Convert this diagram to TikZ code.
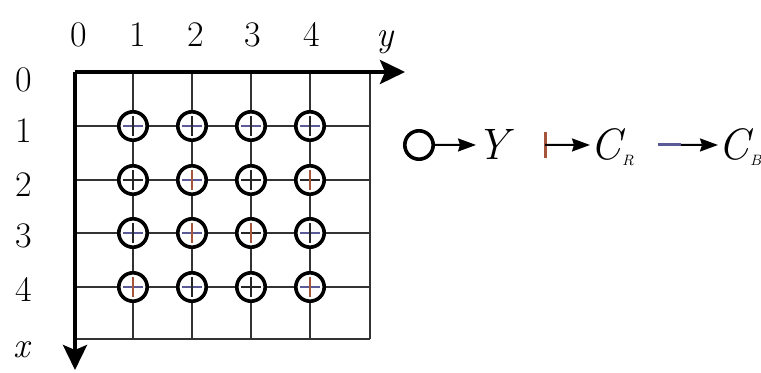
\documentclass[tikz,border=0pt]{standalone}
\usetikzlibrary{arrows.meta}
\definecolor{crred}{RGB}{165,85,60}
\definecolor{cbblue}{RGB}{90,90,150}

\begin{document}
\begin{tikzpicture}[x=0.5pt, y=-0.5pt,
    axisarrow/.style={-{Stealth[length=12.5pt,width=12pt,inset=2.5pt]}, line width=2pt},
    lgarrow/.style={-{Stealth[length=9pt,width=6.5pt,inset=1pt]}, line width=1pt},
    gridline/.style={line width=0.8pt, black!80},
    ysamp/.style={circle, draw, line width=1.8pt, fill=white, minimum size=14.2pt, inner sep=0pt},
    lbl/.style={font=\fontsize{18}{20}\selectfont, inner sep=0pt, anchor=base},
    lgtext/.style={font=\fontsize{22}{24}\selectfont\itshape, inner sep=0pt, anchor=base west},
    subtext/.style={font=\fontsize{7.5}{8}\selectfont\itshape, inner sep=0pt, anchor=base west}]
  \useasboundingbox (0,0) rectangle (761,373);

  % plus sign in a sample: \plusmark{node}{horizontal colour}{vertical colour}
  \newcommand{\plusmark}[3]{
    \draw[line width=1.25pt, #2] ([xshift=-5pt]#1.center) -- ([xshift=5pt]#1.center);
    \draw[line width=1.25pt, #3] ([yshift=-5pt]#1.center) -- ([yshift=5pt]#1.center);
  }

  % grid
  \foreach \gx in {133,192,251,310,370}
    \draw[gridline] (\gx,72) -- (\gx,339);
  \foreach \gy in {126,180,233,287,339}
    \draw[gridline] (75,\gy) -- (370,\gy);

  % axes
  \coordinate (orig) at (75,72);
  \coordinate (yend) at (405,72);
  \coordinate (xend) at (75,370);
  \draw[axisarrow] (orig) -- (yend);
  \draw[axisarrow] (orig) -- (xend);

  % axis labels
  \foreach \n/\lx in {0/79,1/138,2/196,3/253,4/312}
    \node[lbl] (top\n) at (\lx,47) {\n};
  \node[lbl] (ylbl) at (385,47) {\itshape y};
  \foreach \n/\ly in {0/92,1/143,2/197,3/248,4/302}
    \node[lbl] (left\n) at (24,\ly) {\n};
  \node[lbl] (xlbl) at (22,358) {\itshape x};

  % luma samples
  \foreach \c/\cx in {1/133,2/192,3/251,4/310}
    \foreach \r/\ry in {1/126,2/180,3/233,4/287}
      \node[ysamp] (y\r\c) at (\cx,\ry) {};

  % chroma marks
  \foreach \r/\c/\hc/\vc in {1/1/cbblue/black!85, 1/2/cbblue/black!85, 1/3/cbblue/black!85, 1/4/cbblue/black!85,
      2/1/black!85/black!85, 2/2/cbblue/crred, 2/3/black!85/black!85, 2/4/black!85/crred,
      3/1/cbblue/black!85, 3/2/cbblue/crred, 3/3/black!85/crred, 3/4/cbblue/black!85,
      4/1/cbblue/crred, 4/2/cbblue/black!85, 4/3/black!85/black!85, 4/4/cbblue/crred}
    \plusmark{y\r\c}{\hc}{\vc};

  % legend
  \node[ysamp] (lgcirc) at (419,145) {};
  \node[lgtext] (lgY) at (476,160) {Y};
  \draw[lgarrow] (lgcirc) -- (lgY.west);

  \coordinate (crbar) at (545,145);
  \draw[line width=1.5pt, crred] (545,132) -- (545,158);
  \node[lgtext] (lgCR) at (590,160) {C};
  \node[subtext] (lgR) at ([yshift=-3pt]lgCR.base east) {R};
  \draw[lgarrow] (crbar) -- (lgCR.west);

  \coordinate (cbdash) at (658,145);
  \coordinate (cbend) at (681,145);
  \draw[line width=1.5pt, cbblue] (cbdash) -- (cbend);
  \node[lgtext] (lgCB) at (718,160) {C};
  \node[subtext] (lgB) at ([yshift=-3pt]lgCB.base east) {B};
  \draw[lgarrow] (cbend) -- (lgCB.west);
\end{tikzpicture}
\end{document}
